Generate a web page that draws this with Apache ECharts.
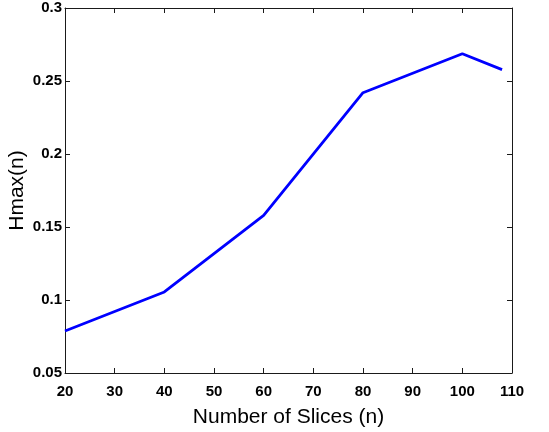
<!DOCTYPE html>
<html>
<head>
<meta charset="utf-8">
<script src="https://cdn.jsdelivr.net/npm/echarts@6/dist/echarts.min.js"></script>
<style>
  html, body { margin: 0; padding: 0; background: #fff; }
  #chart { width: 549px; height: 432px; }
</style>
</head>
<body>
<div id="chart"></div>
<script>
var slices = [20, 40, 60, 80, 100, 108]; // Number of Slices (n)
var hmax = [0.0788, 0.1055, 0.158, 0.242, 0.2687, 0.2578]; // Hmax(n)
var xTicks = [20, 110, 10]; // min, max, step
var yTicks = [0.05, 0.3, 0.05];

var points = [];
for (var i = 0; i < slices.length; i++) {
  points.push([slices[i], hmax[i]]);
}

var axisColor = '#1a1a1a';
var labelFont = { fontFamily: 'Liberation Sans', fontWeight: 'bold', fontSize: 15, color: '#000' };

var myChart = echarts.init(document.getElementById('chart'));
myChart.setOption({
  animation: false,
  grid: { left: 65, right: 37, top: 8, bottom: 59, outerBoundsMode: 'none', containLabel: false },
  xAxis: [
    {
      type: 'value', min: xTicks[0], max: xTicks[1], interval: xTicks[2],
      name: 'Number of Slices (n)', nameLocation: 'middle', nameGap: 34, nameMoveOverlap: false,
      nameTextStyle: { fontFamily: 'Liberation Sans', fontSize: 21, color: '#000' },
      axisLine: { lineStyle: { color: axisColor, width: 1 } },
      axisTick: { inside: true, length: 5, lineStyle: { color: axisColor } },
      axisLabel: Object.assign({ margin: 11 }, labelFont),
      splitLine: { show: false }
    },
    {
      type: 'value', position: 'top', min: xTicks[0], max: xTicks[1], interval: xTicks[2],
      axisLine: { lineStyle: { color: axisColor, width: 1 } },
      axisTick: { inside: true, length: 5, lineStyle: { color: axisColor } },
      axisLabel: { show: false },
      splitLine: { show: false }
    }
  ],
  yAxis: [
    {
      type: 'value', min: yTicks[0], max: yTicks[1], interval: yTicks[2],
      name: 'Hmax(n)', nameLocation: 'middle', nameGap: 37, nameMoveOverlap: false,
      nameTextStyle: { fontFamily: 'Liberation Sans', fontSize: 21, color: '#000' },
      axisLine: { show: true, lineStyle: { color: axisColor, width: 1 } },
      axisTick: { show: true, inside: true, length: 5, lineStyle: { color: axisColor } },
      axisLabel: Object.assign({ margin: 3 }, labelFont),
      splitLine: { show: false }
    },
    {
      type: 'value', position: 'right', min: yTicks[0], max: yTicks[1], interval: yTicks[2],
      axisLine: { show: true, lineStyle: { color: axisColor, width: 1 } },
      axisTick: { show: true, inside: true, length: 5, lineStyle: { color: axisColor } },
      axisLabel: { show: false },
      splitLine: { show: false }
    }
  ],
  series: [
    {
      type: 'line',
      data: points,
      showSymbol: false,
      lineStyle: { color: '#0000ff', width: 2.8 }
    }
  ]
});
</script>
</body>
</html>
